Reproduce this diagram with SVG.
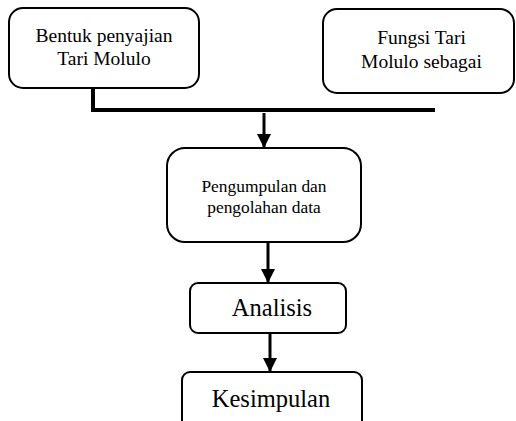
<svg xmlns="http://www.w3.org/2000/svg" width="516" height="421" viewBox="0 0 516 421">
<style>
.box{fill:#fff;stroke:#000;stroke-width:2}
.t{font-family:"Liberation Serif","Times New Roman",serif;fill:#000;text-anchor:middle}
.ln{stroke:#000;fill:none}
</style>
<defs>
<marker id="ah" viewBox="0 0 14 14" refX="14" refY="7" markerWidth="14" markerHeight="14" markerUnits="userSpaceOnUse" orient="auto">
<path d="M0,0 L14,7 L0,14 Z" fill="#000"/>
</marker>
</defs>
<g id="node-bentuk">
<rect class="box" x="9" y="8" width="190" height="80" rx="14"/>
<text class="t" x="104" y="42" font-size="19.5">Bentuk penyajian</text>
<text class="t" x="104" y="65" font-size="19.5">Tari Molulo</text>
</g>
<g id="node-fungsi">
<rect class="box" x="323" y="9" width="191" height="84" rx="14"/>
<text class="t" x="421.5" y="44" font-size="19.5">Fungsi Tari</text>
<text class="t" x="421.5" y="68" font-size="19.5">Molulo sebagai</text>
</g>
<g id="node-pengumpulan">
<rect class="box" x="167" y="148" width="194" height="94" rx="18"/>
<text class="t" x="264" y="192" font-size="17.4">Pengumpulan dan</text>
<text class="t" x="264" y="213" font-size="17.4">pengolahan data</text>
</g>
<g id="node-analisis">
<rect class="box" x="190" y="283" width="156" height="50" rx="8"/>
<text class="t" x="272" y="316" font-size="24.5">Analisis</text>
</g>
<g id="node-kesimpulan">
<rect class="box" x="182" y="372" width="180" height="60" rx="8"/>
<text class="t" x="271" y="407" font-size="24.5">Kesimpulan</text>
</g>
<g id="connectors">
<path class="ln" d="M93,88 V110 H435" stroke-width="4"/>
<line class="ln" x1="264" y1="113" x2="264" y2="148" stroke-width="3" marker-end="url(#ah)"/>
<line class="ln" x1="268" y1="242" x2="268" y2="283" stroke-width="3" marker-end="url(#ah)"/>
<line class="ln" x1="270" y1="333" x2="270" y2="372" stroke-width="3" marker-end="url(#ah)"/>
</g>
</svg>
